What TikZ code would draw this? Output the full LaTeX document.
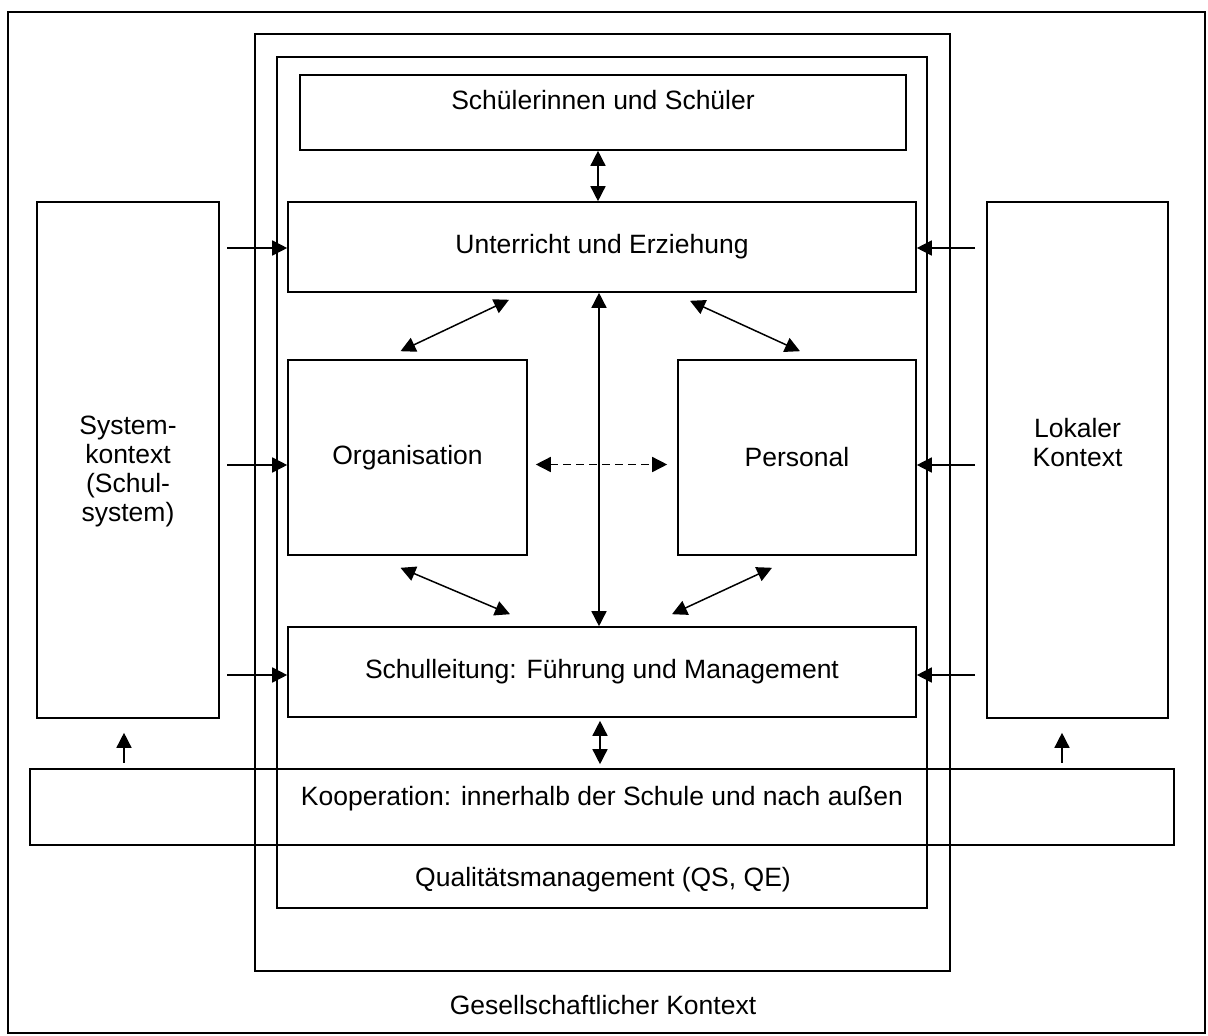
\documentclass[tikz,border=0pt]{standalone}
\usepackage{fontspec}
\setmainfont{Liberation Sans}
\usetikzlibrary{arrows.meta}

\begin{document}
\begin{tikzpicture}[x=1pt,y=-1pt,>={Triangle[length=15pt,width=15pt]},
  box/.style={draw,line width=1.6pt,inner sep=0pt,align=center},
  conn/.style={line width=1.5pt},
  every node/.append style={font=\fontsize{26.5}{29}\selectfont},
  every label/.append style={align=center}]
  \useasboundingbox (0,0) rectangle (1208,1036);
  \node[box,minimum width=1197pt,minimum height=1021pt] (gesellschaft) at (606.5,522.5) {};
  \node[box,minimum width=695pt,minimum height=937pt] (schule) at (602.5,502.5) {};
  \node[box,minimum width=650pt,minimum height=851pt] (qm) at (602,482.5) {};
  \node[box,minimum width=606pt,minimum height=75pt,
    label={[yshift=12pt]center:Schülerinnen und Schüler}] (schueler) at (603,112.5) {};
  \node[box,minimum width=628pt,minimum height=90pt] (unterricht) at (602,247) {Unterricht und Erziehung};
  \node[box,minimum width=239pt,minimum height=195pt] (org) at (407.5,457.5) {Organisation};
  \node[box,minimum width=238pt,minimum height=195pt] (pers) at (797,457.5) {Personal};
  \node[box,minimum width=628pt,minimum height=90pt] (leitung) at (602,672) {Schulleitung: Führung und Management};
  \node[box,minimum width=182pt,minimum height=516pt,
    label={[yshift=-11pt]center:System-\\kontext\\(Schul-\\system)}] (system) at (128,460) {};
  \node[box,minimum width=181pt,minimum height=516pt,
    label={[yshift=17pt]center:Lokaler\\Kontext}] (lokal) at (1077.5,460) {};
  \node[box,minimum width=1144pt,minimum height=76pt,
    label={[yshift=8pt]center:Kooperation: innerhalb der Schule und nach außen}] (koop) at (602,807) {};
  \node (qmtext) at (603,880) {Qualitätsmanagement (QS, QE)};
  \node (gktext) at (603,1005) {Gesellschaftlicher Kontext};

  \foreach \y/\a/\b in {248/unterricht/unterricht,465/org/pers,675/leitung/leitung} {
    \coordinate (l) at (227,\y);
    \coordinate (r) at (975,\y);
    \draw[conn,->] (l) -- (l -| \a.west);
    \draw[conn,->] (r) -- (r -| \b.east);
  }
  \draw[conn,->] ([shift={(-4pt,-44pt)}]system.south) -- ([shift={(-4pt,-14pt)}]system.south);
  \draw[conn,->] ([shift={(-15.5pt,-44pt)}]lokal.south) -- ([shift={(-15.5pt,-14pt)}]lokal.south);
  \draw[conn,<->] ([xshift=-4pt]unterricht.north |- schueler.south) -- ([xshift=-4pt]unterricht.north);
  \draw[conn,<->] ([xshift=-3pt]unterricht.south) -- ([xshift=-3pt]leitung.north);
  \draw[conn,<->,shorten <=3pt,shorten >=4pt] ([xshift=-2pt]leitung.south) -- ([xshift=-2pt]koop.north);
  \draw[conn,<->] ([shift={(-7pt,8pt)}]org.north) -- ([shift={(-93pt,-7pt)}]unterricht.south);
  \draw[conn,<->] ([shift={(88pt,-8pt)}]unterricht.south) -- ([shift={(3pt,8pt)}]pers.north);
  \draw[conn,<->] ([shift={(-7pt,-12pt)}]org.south) -- ([shift={(-92pt,12pt)}]leitung.north);
  \draw[conn,<->] ([shift={(-25pt,-12pt)}]pers.south) -- ([shift={(70pt,12pt)}]leitung.north);
  \draw[conn,<->,dash pattern=on 8pt off 5pt] ([shift={(8pt,-7pt)}]org.east) -- ([shift={(-10pt,-7pt)}]pers.west);
\end{tikzpicture}
\end{document}
